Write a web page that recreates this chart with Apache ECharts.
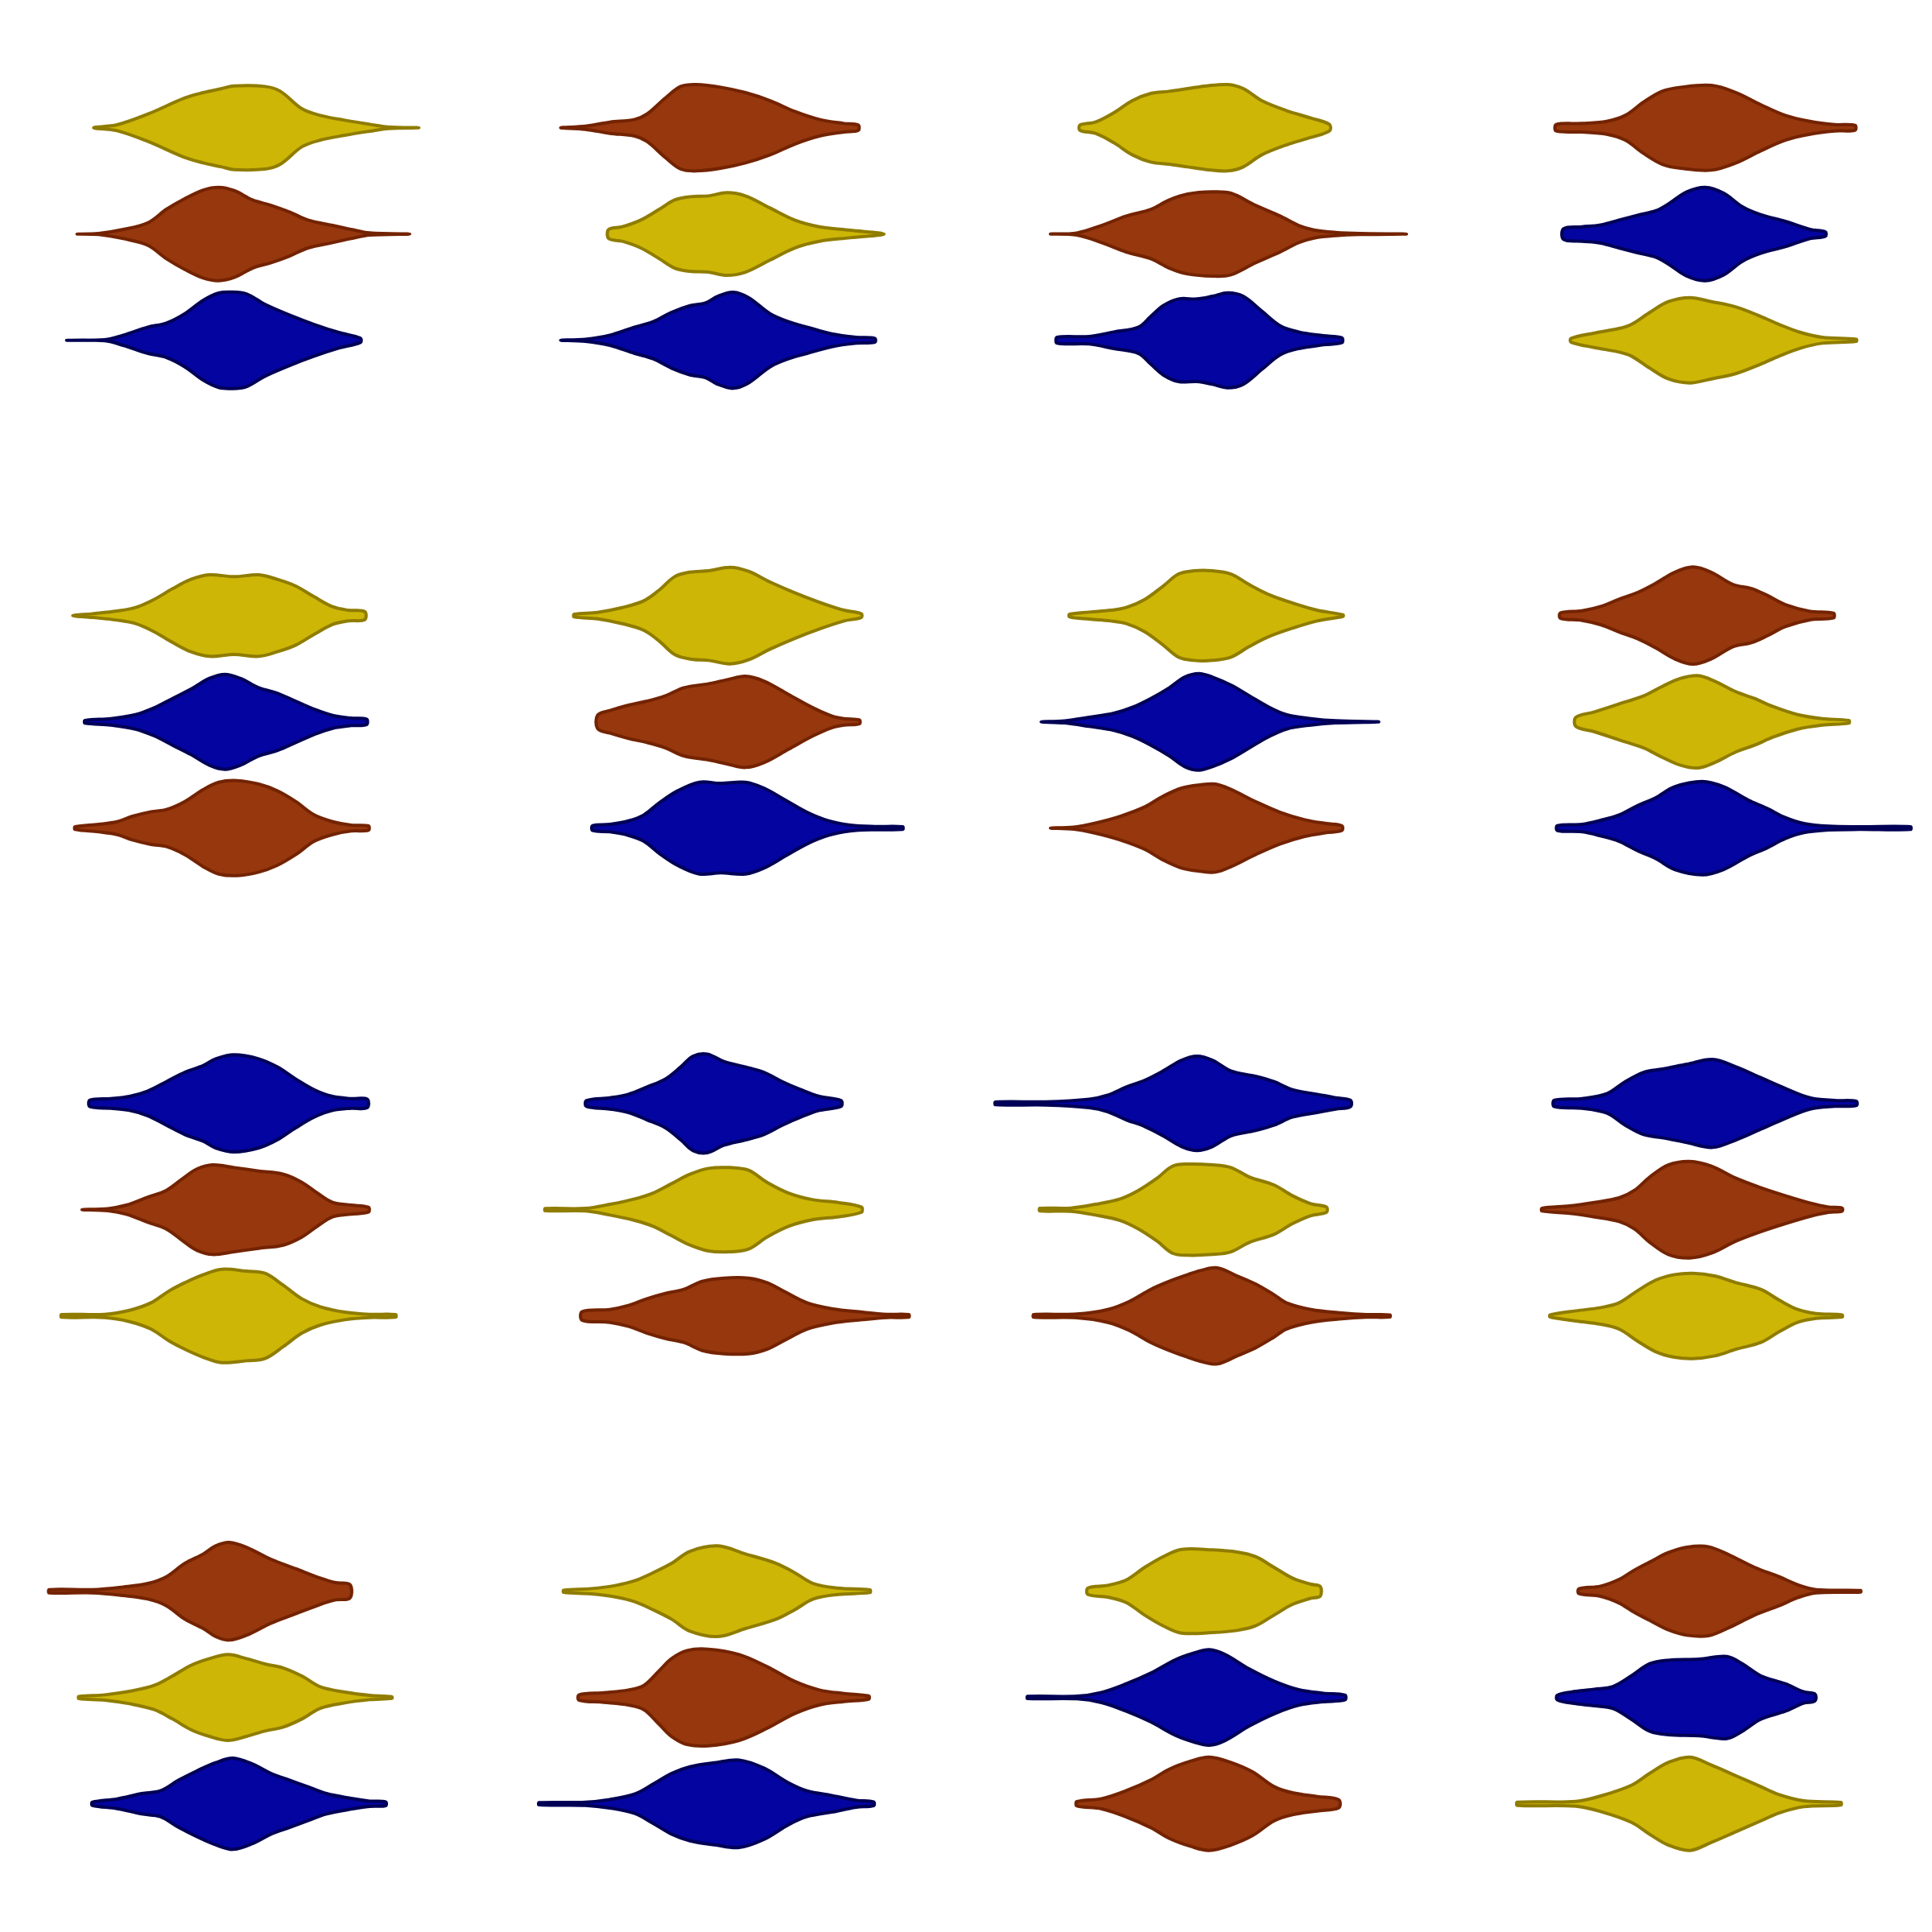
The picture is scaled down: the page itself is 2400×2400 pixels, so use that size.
<!DOCTYPE html>
<html lang="en">
<head>
<meta charset="UTF-8">
<title>violins</title>
<script src="https://cdn.jsdelivr.net/npm/echarts/dist/echarts.min.js"></script>
<style>
  html, body { margin: 0; background: #fff; }
  #main { width: 2400px; height: 2400px; }
</style>
</head>
<body>
<div id="main"></div>
<script>
// group colours
var fills = { yellow: '#CDB605', brown: '#96370D', blue: '#0404A0' };
var edges = { yellow: '#8F7C00', brown: '#732300', blue: '#000055' };

// three rows per panel, top to bottom
var slots = ['0', '1', '2'];

// colour of each row, panels read left to right, top to bottom
var panelColors = [
  ['yellow', 'brown', 'blue'], ['brown', 'yellow', 'blue'], ['yellow', 'brown', 'blue'], ['brown', 'blue', 'yellow'],
  ['yellow', 'blue', 'brown'], ['yellow', 'brown', 'blue'], ['yellow', 'blue', 'brown'], ['brown', 'yellow', 'blue'],
  ['blue', 'brown', 'yellow'], ['blue', 'yellow', 'brown'], ['blue', 'yellow', 'brown'], ['blue', 'brown', 'yellow'],
  ['brown', 'yellow', 'blue'], ['yellow', 'brown', 'blue'], ['yellow', 'blue', 'brown'], ['brown', 'blue', 'yellow']
];

// violin profiles: [value, half width]; 39.6 width units fill one row
var bandUnits = 39.6;
var xMax = 78.4;

var v00a = [[15.2,0],[19,1.1],[24,5.1],[30,11.1],[33,13.1],[36,14.6],[38,15.6],[43,15.4],[45.5,13.6],[49,7.1],[52,4.6],[56,2.8],[60,1.3],[63,0.3],[68,0]];
var v00b = [[12.5,0],[16,0.2],[20,1.7],[24,4.2],[27,9.2],[30,13.2],[33,16.4],[35.5,17.4],[38,16.2],[41,12.7],[44,10.7],[47,8.2],[50,5.2],[54,3.2],[57,1.7],[60,0.4],[66.5,0]];
var v00c = [[10.8,0],[17,0.2],[20,1.9],[24,4.9],[27,6.4],[30,9.9],[33,14.9],[35.5,17.6],[37.5,18],[40,17.3],[43,13.4],[47,9.4],[51,5.9],[55,2.9],[58.5,0.8]];

var v01a = [[12.6,0],[16.6,0.6],[20.6,2.1],[24.6,3.1],[26.6,5.1],[29.6,11.1],[32.1,15.4],[34.6,16.1],[38.6,15.1],[42.6,13.1],[46.6,10.1],[50.6,6.1],[54.6,3.1],[58.6,1.6],[60.9,1.0]];
var v01b = [[20.4,1.7],[22.6,2.7],[25.6,5.2],[28.6,9.2],[31.1,12.7],[33.6,13.9],[36.6,14.2],[39.6,15.4],[42.6,14.2],[46.6,9.7],[50.6,5.2],[54.6,2.7],[59.6,1.4],[65.1,0]];
var v01c = [[12.6,0],[16.6,0.4],[20.6,1.9],[24.6,4.9],[27.6,6.9],[30.6,10.4],[33.6,12.9],[36.1,13.9],[38.1,16.4],[40.6,17.9],[43.1,15.9],[46.6,9.9],[49.6,6.9],[52.6,4.9],[56.6,2.4],[60.6,1.1],[63.6,0.7]];

var v02a = [[18.5,1.0],[21,2.1],[24,5.6],[27,10.1],[30,12.8],[33,13.6],[36,14.6],[39,15.6],[42.5,16.1],[45,14.6],[48,10.1],[52,6.4],[56,3.6],[59,1.2]];
var v02b = [[13.7,0],[18,0.4],[22,3.2],[26,6.7],[30,9.2],[33,12.7],[36,14.9],[40,15.7],[43,15.2],[47,10.7],[51,6.7],[54,3.2],[56.5,1.5],[60,0.6],[64,0.2],[71.5,0]];
var v02c = [[14.8,1.1],[20,1.4],[24,3.1],[28,4.9],[30,8.9],[32,12.9],[34.5,15.4],[37.5,15.4],[40,16.4],[42.5,17.7],[45,16.4],[48,10.9],[51,5.4],[54,3.1],[58,1.7],[61,0.9]];

var v03a = [[17.4,1.2],[21.6,1.6],[25.6,2.4],[28.6,4.6],[31.6,9.6],[34.6,13.6],[37.6,15.1],[42.6,15.8],[46.6,13.1],[50.6,8.6],[54.6,4.6],[58.6,2.4],[62.6,1.2],[65.9,0.9]];
var v03b = [[18.6,2.0],[21.6,2.7],[24.6,3.4],[27.6,5.2],[30.6,7.0],[33.6,8.7],[35.6,11.2],[38.6,15.7],[41.6,17.4],[44.6,15.2],[47.6,10.2],[50.6,7.2],[54.6,4.7],[58.6,1.7],[61.1,0.8]];
var v03c = [[19.8,0.7],[23.6,2.7],[27.6,4.4],[29.6,5.9],[32.6,10.4],[35.6,14.4],[39.1,15.9],[42.6,14.4],[46.6,12.4],[50.6,8.9],[53.6,5.9],[57.1,2.9],[60.6,1.1],[66.1,0.4]];

var v10a = [[11.8,0],[15,0.7],[19,1.7],[22,3.0],[25,6.0],[28,10.0],[31,13.5],[34,15.2],[38,14.5],[42,15.2],[45,13.5],[48,11.0],[51,7.0],[54,3.3],[56.5,2.0],[59.2,1.5]];
var v10b = [[13.8,0.5],[18,1.2],[22,2.7],[25,5.2],[28,8.7],[31,12.2],[34,16.2],[36.5,17.7],[39,16.2],[42,12.7],[45,10.7],[48,7.7],[51,4.7],[54,2.4],[57,1.4],[59.5,1.0]];
var v10c = [[12.2,0.5],[16,1.4],[19,2.4],[21.5,4.4],[24.5,6.1],[27,6.9],[30,9.9],[33,14.4],[35.5,17.1],[38.5,17.7],[42,16.4],[45,13.9],[48,9.9],[51,4.9],[54,2.4],[57,1.1],[59.8,0.8]];

var v11a = [[14.8,0.5],[18.6,1.2],[22.6,3.0],[26.1,5.5],[28.6,9.5],[31.1,14.5],[33.6,16.2],[36.6,16.7],[40.1,18.0],[43.1,16.5],[46.6,12.5],[50.6,8.5],[54.6,5.0],[58.6,2.0],[61.4,0.7]];
var v11b = [[18.6,2.5],[20.6,4.2],[23.6,6.2],[26.6,7.7],[29.6,9.7],[32.6,12.7],[36.6,14.2],[39.6,15.7],[42.6,17.0],[45.6,15.2],[49.6,10.2],[53.6,5.2],[56.6,2.2],[58.6,1.2],[61.1,0.7]];
var v11c = [[17.8,0.9],[20.6,1.4],[23.6,2.7],[26.1,4.9],[28.6,9.4],[31.6,13.9],[35.1,17.1],[38.6,16.7],[42.6,17.1],[45.6,14.9],[49.1,10.4],[52.6,5.9],[56.1,2.7],[59.6,1.1],[63.6,0.6],[68.1,0.5]];

var v12a = [[16.8,0.5],[20,1.3],[23.5,2.0],[26,3.0],[29,6.0],[32,11.0],[34.5,15.5],[37,16.7],[40,16.7],[43,15.5],[46,11.5],[49,8.0],[53,4.7],[57,2.0],[61.2,0.3]];
var v12b = [[12.2,0],[16,0.4],[20,1.7],[24,3.2],[27,5.4],[30,8.7],[33,12.7],[35.5,16.7],[37.8,18.0],[40,16.7],[43,13.7],[46,9.7],[49,5.7],[52,2.7],[56,1.2],[60,0.4],[67,0]];
var v12c = [[13.7,0],[17.5,0.4],[21,1.9],[25,4.4],[29,7.9],[32,11.9],[35,14.9],[38,16.1],[40.5,16.4],[43,14.4],[47,9.9],[51,5.9],[55,3.1],[58.5,1.7],[61,0.9]];

var v13a = [[18.1,1.0],[21.6,1.8],[24.6,3.4],[27.6,6.1],[30.6,8.6],[33.6,12.1],[36.6,16.1],[39.6,18.1],[42.6,16.1],[46.1,11.6],[49.1,10.1],[51.6,7.6],[54.6,4.1],[58.6,1.6],[62.4,0.9]];
var v13b = [[20.6,1.7],[23.6,3.7],[27.6,6.7],[31.6,9.7],[34.6,13.2],[37.6,16.2],[40.4,17.2],[43.1,15.2],[46.6,11.2],[49.6,8.7],[52.6,5.7],[56.6,2.7],[60.6,1.2],[64.9,0.5]];
var v13c = [[17.6,0.9],[21.6,1.4],[24.6,2.9],[27.6,4.9],[30.6,8.4],[33.6,11.4],[36.6,15.4],[41.1,17.4],[44.6,15.4],[48.6,10.4],[51.6,7.4],[54.6,3.9],[57.6,1.7],[61.6,0.7],[66.6,0.5],[74.9,0.5]];

var v20a = [[14.6,1.2],[18,1.8],[21,2.6],[24,4.6],[27,8.1],[30,11.6],[33,14.1],[35,16.6],[38,18.1],[42,16.6],[45,13.6],[48,9.1],[51,5.1],[54,2.6],[57,1.8],[59.6,1.6]];
var v20b = [[13.3,0],[17.5,0.4],[20.5,1.7],[24,4.7],[27,7.2],[30,12.2],[32,15.2],[34.5,16.7],[38,15.7],[42,14.4],[46,13.2],[49,10.2],[51.5,6.2],[54,2.7],[57,1.7],[59.8,0.9]];
var v20c = [[10,0.5],[17,0.6],[21,2.1],[24.5,4.9],[27.5,9.4],[30,12.4],[33,15.4],[36,17.4],[40,16.7],[43,15.9],[46,11.4],[49,6.4],[52,3.4],[56,1.4],[60,0.6],[64.2,0.5]];

var v21a = [[16.8,1.1],[20.6,2.1],[23.6,3.4],[26.6,6.1],[29.6,9.1],[32.1,13.6],[34.1,17.6],[36.4,18.4],[39.1,15.6],[42.6,13.6],[45.6,11.6],[48.6,8.1],[51.6,5.1],[54.6,2.6],[58.1,1.1]];
var v21b = [[10.1,0.4],[16.6,0.5],[20.6,2.0],[24.6,4.0],[27.6,6.2],[30.6,9.7],[33.6,13.2],[36.6,15.4],[40.1,15.7],[43.1,14.7],[46.1,10.2],[49.6,6.2],[53.6,3.7],[57.6,2.7],[61.4,1.0]];
var v21c = [[16.1,1.6],[20.6,2.4],[23.6,3.9],[26.6,6.4],[29.6,8.4],[32.6,9.9],[35.6,12.9],[39.1,14.1],[43.1,14.1],[46.1,12.4],[49.1,8.9],[52.6,4.9],[56.6,2.7],[61.6,1.4],[65.6,0.6],[69.1,0.5]];

var v22a = [[4.8,0.5],[13,0.6],[20,1.6],[23,3.1],[26,6.1],[29,8.6],[32,12.1],[35,16.1],[37.5,17.6],[40,16.1],[43,12.1],[47,10.1],[50,8.1],[53,5.1],[57,3.4],[60,2.1],[62.4,1.2]];
var v22b = [[12,0.5],[17,0.6],[21,2.0],[25,4.0],[28,7.2],[31,11.7],[33.5,16.2],[36,17.0],[40,16.7],[43,15.7],[46,12.2],[50,9.2],[53,5.2],[56,2.2],[58.5,1.0]];
var v22c = [[11,0.5],[18,0.7],[23,2.4],[26.5,5.4],[30,9.9],[33,12.9],[36,15.4],[38,16.9],[40.8,17.9],[44,14.9],[47,11.9],[50,7.9],[52,4.9],[56,2.4],[61,1.1],[65,0.5],[68.8,0.4]];

var v23a = [[17.1,1.2],[21.6,1.8],[25.6,3.6],[28.6,8.1],[31.6,11.6],[34.6,12.8],[38.6,14.6],[42.8,16.4],[46.6,13.6],[50.6,9.6],[54.6,5.6],[58.6,2.1],[62.6,1.1],[66.1,0.8]];
var v23b = [[15.1,0.5],[19.6,1.4],[23.6,2.7],[27.6,4.4],[30.1,7.2],[32.6,12.2],[35.6,16.7],[39.1,18.0],[42.6,16.2],[46.6,11.7],[50.6,8.2],[54.6,5.2],[58.6,2.5],[61.6,1.0],[63.8,0.6]];
var v23c = [[16.4,0.4],[20.6,1.9],[24.6,3.1],[27.6,4.9],[30.6,9.4],[33.6,13.4],[36.6,15.4],[39.6,15.9],[43.1,14.9],[46.6,12.4],[50.6,9.9],[53.6,5.9],[56.6,2.4],[59.6,0.9],[63.8,0.4]];

var v30a = [[8,0.6],[15,0.6],[20,1.6],[24,2.9],[27,5.4],[30,10.4],[33,13.9],[35,16.9],[37.2,18.2],[40,16.4],[44,11.9],[48,8.4],[52,4.9],[54.5,3.2],[56.8,2.5]];
var v30b = [[12.8,0.4],[17,1.0],[21,2.3],[25,4.5],[28,8.0],[31,12.0],[34,14.5],[37,16.0],[40,14.5],[43,12.5],[46,11.0],[49,8.0],[52,4.0],[56,2.0],[60,0.8],[63.6,0.3]];
var v30c = [[15,0.6],[19,1.8],[23,3.8],[26,4.8],[29,8.8],[32,12.3],[35,15.3],[37.8,17.0],[41,14.8],[44,11.3],[47,8.8],[50,6.3],[53,3.8],[57,2.0],[60,1.0],[62.6,0.7]];

var v31a = [[13.1,0.4],[17.6,1.0],[21.6,2.2],[24.6,3.9],[27.6,6.9],[30.6,10.4],[33.6,14.9],[38.1,16.9],[42.6,13.9],[47.6,10.4],[50.6,6.9],[53.6,2.9],[57.6,1.2],[62.8,0.5]];
var v31b = [[15.6,1.0],[19.6,1.8],[23.6,2.8],[26.1,4.5],[28.6,10.0],[30.6,14.5],[33.1,17.5],[36.6,18.0],[41.6,16.0],[46.1,11.5],[50.6,6.0],[54.6,2.8],[58.6,1.5],[62.6,0.6]];
var v31c = [[9.1,0.4],[16.6,0.6],[20.6,1.6],[24.6,3.6],[27.6,7.3],[30.6,11.3],[33.6,13.8],[37.6,15.3],[41.6,16.3],[45.6,13.3],[49.6,7.8],[52.6,4.8],[56.6,3.1],[60.6,1.3],[63.4,0.7]];

var v32a = [[19.8,1.2],[23,2.2],[26,4.2],[29,8.9],[32,12.9],[35,15.6],[40,15.4],[44,14.6],[47,12.9],[50,8.9],[53,4.9],[56,2.6],[57.5,1.8]];
var v32b = [[10,0.4],[18,0.5],[22,1.9],[26,5.1],[30,9.1],[34,14.1],[37,16.6],[39.5,17.8],[42,16.1],[46,10.6],[50,6.1],[54,2.9],[58,1.6],[61.5,0.9]];
var v32c = [[18,0.8],[22,1.9],[26,4.9],[30,8.9],[33,12.9],[36.5,15.9],[39.5,17.4],[43,15.4],[46.5,11.9],[50,6.4],[53,4.1],[57,2.7],[60.5,1.5]];

var v33a = [[21.1,0.9],[24.6,1.9],[27.6,4.4],[30.1,7.9],[32.6,10.9],[35.6,14.4],[38.6,16.4],[42.1,16.6],[45.6,13.4],[49.6,8.9],[53.6,5.4],[56.6,2.4],[59.6,0.6],[66.8,0.3]];
var v33b = [[17.6,0.9],[20.6,2.3],[23.6,3.1],[26.6,4.1],[29.6,8.1],[32.6,12.6],[35.6,13.9],[40.6,14.3],[45.1,15.3],[47.6,12.6],[50.6,8.1],[54.6,5.1],[57.6,2.1],[59.4,1.3]];
var v33c = [[11.1,0.6],[20.6,0.9],[24.6,2.9],[29.6,6.9],[32.6,11.4],[35.6,15.4],[39.1,17.4],[42.6,14.4],[46.6,10.4],[50.6,6.4],[53.6,3.4],[57.6,1.1],[63.6,0.5]];

var panelViolins = [
  [v00a, v00b, v00c], [v01a, v01b, v01c], [v02a, v02b, v02c], [v03a, v03b, v03c],
  [v10a, v10b, v10c], [v11a, v11b, v11c], [v12a, v12b, v12c], [v13a, v13b, v13c],
  [v20a, v20b, v20c], [v21a, v21b, v21c], [v22a, v22b, v22c], [v23a, v23b, v23c],
  [v30a, v30b, v30c], [v31a, v31b, v31c], [v32a, v32b, v32c], [v33a, v33b, v33c]
];

var chart = echarts.init(document.getElementById('main'));

// build one polygon from a profile, mirrored around its row
function violinRenderer(profile, color) {
  return function (params, api) {
    var row = api.value(1);
    var band = api.size([0, 1])[1];
    var upper = [], lower = [];
    profile.forEach(function (p) {
      var c = api.coord([p[0], row]);
      var h = p[1] / bandUnits * band;
      upper.push([c[0], c[1] - h]);
      if (h > 0) lower.unshift([c[0], c[1] + h]);
    });
    return {
      type: 'polygon',
      shape: { points: upper.concat(lower), smooth: 0.35 },
      style: {
        fill: fills[color],
        stroke: edges[color],
        lineWidth: 4,
        lineJoin: 'round'
      }
    };
  };
}

var grids = [], xAxes = [], yAxes = [], series = [];
panelViolins.forEach(function (violins, i) {
  var r = Math.floor(i / 4), c = i % 4;
  grids.push({ left: c * 600, top: 92.7 + r * 606, width: 600, height: 396 });
  xAxes.push({ type: 'value', gridIndex: i, min: 0, max: xMax, show: false });
  yAxes.push({ type: 'category', gridIndex: i, data: slots, inverse: true, show: false });
  violins.forEach(function (profile, k) {
    series.push({
      type: 'custom',
      xAxisIndex: i,
      yAxisIndex: i,
      data: [[profile[0][0], k]],
      encode: { x: 0, y: 1 },
      renderItem: violinRenderer(profile, panelColors[i][k])
    });
  });
});

chart.setOption({
  animation: false,
  backgroundColor: '#fff',
  grid: grids,
  xAxis: xAxes,
  yAxis: yAxes,
  series: series
});
</script>
</body>
</html>
